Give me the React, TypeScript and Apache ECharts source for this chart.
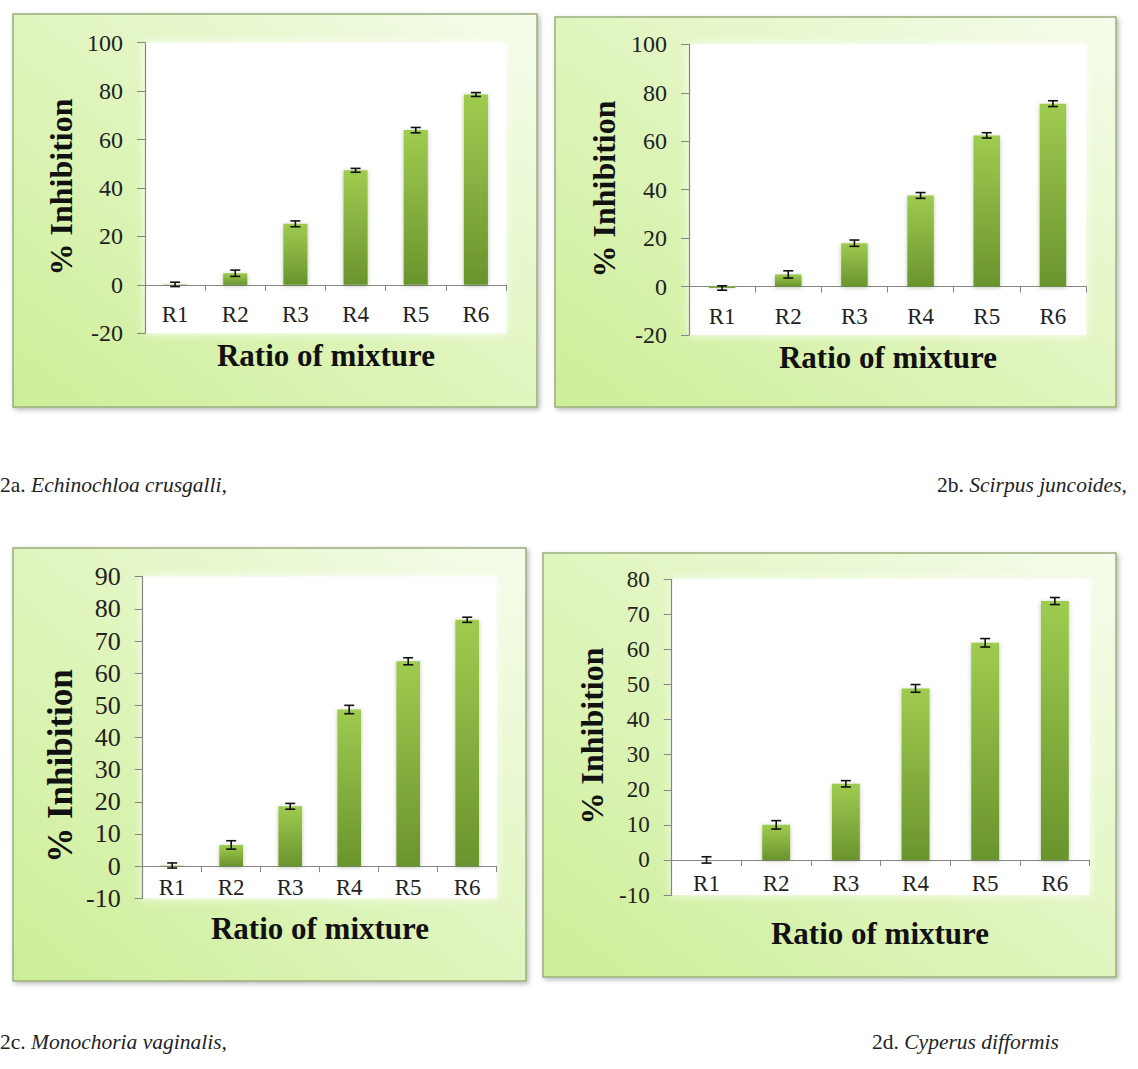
import React, { useEffect, useRef } from "react";
import * as echarts from "echarts";

const categories = ["R1", "R2", "R3", "R4", "R5", "R6"];

const valuesA = [0.2, 4.8, 25.2, 47.3, 63.9, 78.6];
const errorsA = [0.9, 1.3, 1.2, 0.8, 1.1, 0.8];
const valuesB = [-0.6, 5.0, 17.9, 37.6, 62.4, 75.5];
const errorsB = [0.9, 1.5, 1.3, 1.2, 1.1, 1.2];
const valuesC = [0.2, 6.6, 18.6, 48.7, 63.7, 76.6];
const errorsC = [0.8, 1.3, 0.9, 1.3, 1.1, 0.8];
const valuesD = [0.0, 10.0, 21.7, 48.9, 61.9, 73.8];
const errorsD = [0.9, 1.2, 0.9, 1.1, 1.2, 1.0];

const yScaleA = { min: -20, max: 100, interval: 20 };
const yScaleB = { min: -20, max: 100, interval: 20 };
const yScaleC = { min: -10, max: 90, interval: 10 };
const yScaleD = { min: -10, max: 80, interval: 10 };

const yTitle = "% Inhibition";
const xTitle = "Ratio of mixture";
const captions = [
  { num: "2a. ", name: "Echinochloa crusgalli," },
  { num: "2b. ", name: "Scirpus juncoides," },
  { num: "2c. ", name: "Monochoria vaginalis," },
  { num: "2d. ", name: "Cyperus difformis" },
];

const SERIF = "Liberation Serif";
const SERIF_STACK = "'Liberation Serif', 'Times New Roman', serif";

// layout of the four panels (pixels)
const panels = [
  {
    values: valuesA, errors: errorsA, scale: yScaleA,
    box: [13, 14, 524, 393],
    grid: { left: 145, top: 42.7, width: 361, height: 290.6 },
    yTitle: [61, 187, 32], xTitle: [326, 355], yFont: 24, xMargin: -30,
    caption: [0, 485],
  },
  {
    values: valuesB, errors: errorsB, scale: yScaleB,
    box: [555, 17, 561, 390],
    grid: { left: 689, top: 44.3, width: 397, height: 290.7 },
    yTitle: [604, 189, 32], xTitle: [888, 357], yFont: 24, xMargin: -30,
    caption: [937, 485],
  },
  {
    values: valuesC, errors: errorsC, scale: yScaleC,
    box: [13, 548, 513, 433],
    grid: { left: 142.7, top: 576.7, width: 354, height: 321.6 },
    yTitle: [60, 766, 35], xTitle: [320, 928], yFont: 26, xMargin: -22,
    caption: [0, 1042],
  },
  {
    values: valuesD, errors: errorsD, scale: yScaleD,
    box: [543, 553, 573, 424],
    grid: { left: 671.7, top: 579.3, width: 418, height: 315.7 },
    yTitle: [592, 736, 32], xTitle: [880, 933], yFont: 23, xMargin: -23.5,
    caption: [872, 1042],
  },
];

export default function App() {
  const ref = useRef<HTMLDivElement | null>(null);

  useEffect(() => {
    if (!ref.current) return;
    const chart = echarts.init(ref.current, undefined, { renderer: "svg" });

    const grids: any[] = [];
    const xAxes: any[] = [];
    const yAxes: any[] = [];
    const series: any[] = [];
    const graphics: any[] = [];

    panels.forEach((p, i) => {
      graphics.push({
        type: "rect",
        z: -10,
        shape: { x: p.box[0], y: p.box[1], width: p.box[2], height: p.box[3] },
        style: {
          fill: new echarts.graphic.LinearGradient(0, 1, 1, 0, [
            { offset: 0, color: "#cdee98" },
            { offset: 0.55, color: "#e2f6c2" },
            { offset: 1, color: "#f5fceb" },
          ]),
          stroke: "#9aae7c",
          lineWidth: 1.5,
          shadowColor: "rgba(0,0,0,0.28)",
          shadowBlur: 5,
          shadowOffsetX: 2,
          shadowOffsetY: 2,
        },
      });
      graphics.push({
        type: "text",
        x: p.yTitle[0],
        y: p.yTitle[1],
        rotation: Math.PI / 2,
        z: 10,
        style: {
          text: yTitle,
          font: `bold ${p.yTitle[2]}px ${SERIF_STACK}`,
          fill: "#111",
          align: "center",
          verticalAlign: "middle",
        },
      });
      graphics.push({
        type: "text",
        x: p.xTitle[0],
        y: p.xTitle[1],
        z: 10,
        style: {
          text: xTitle,
          font: `bold 31px ${SERIF_STACK}`,
          fill: "#111",
          align: "center",
          verticalAlign: "middle",
        },
      });
      const c = captions[i];
      graphics.push({
        type: "text",
        x: p.caption[0],
        y: p.caption[1],
        z: 10,
        style: {
          text: `{n|${c.num}}{i|${c.name}}`,
          align: "left",
          verticalAlign: "middle",
          rich: {
            n: { fontFamily: SERIF, fontSize: 21.5, fill: "#222" },
            i: { fontFamily: SERIF, fontSize: 21.5, fontStyle: "italic", fill: "#222" },
          },
        },
      });

      grids.push({
        left: p.grid.left,
        top: p.grid.top,
        width: p.grid.width,
        height: p.grid.height,
        show: true,
        backgroundColor: "#ffffff",
        borderWidth: 0,
        shadowColor: "rgba(255,255,255,1)",
        shadowBlur: 10,
        containLabel: false,
      });

      xAxes.push({
        type: "category",
        gridIndex: i,
        data: categories,
        axisLine: { show: true, onZero: true, lineStyle: { color: "#858585", width: 1.2 } },
        axisTick: { show: true, length: 6, alignWithLabel: false, lineStyle: { color: "#858585" } },
        axisLabel: {
          margin: p.xMargin,
          fontFamily: SERIF,
          fontSize: 23,
          color: "#222",
        },
        splitLine: { show: false },
      });

      yAxes.push({
        type: "value",
        gridIndex: i,
        min: p.scale.min,
        max: p.scale.max,
        interval: p.scale.interval,
        axisLine: { show: true, lineStyle: { color: "#858585", width: 1.2 } },
        axisTick: { show: true, length: 8, lineStyle: { color: "#858585" } },
        axisLabel: {
          margin: 22,
          fontFamily: SERIF,
          fontSize: p.yFont,
          color: "#222",
        },
        splitLine: { show: false },
      });

      series.push({
        type: "bar",
        xAxisIndex: i,
        yAxisIndex: i,
        data: p.values,
        barWidth: "40%",
        itemStyle: {
          color: new echarts.graphic.LinearGradient(0, 0, 0, 1, [
            { offset: 0, color: "#9fcb50" },
            { offset: 1, color: "#6a942d" },
          ]),
          shadowColor: "rgba(60,90,20,0.35)",
          shadowBlur: 4,
          shadowOffsetY: 1,
        },
      });

      series.push({
        type: "custom",
        xAxisIndex: i,
        yAxisIndex: i,
        z: 5,
        data: p.values.map((v, k) => [k, v - p.errors[k], v + p.errors[k]]),
        encode: { x: 0, y: [1, 2] },
        renderItem: (params: any, api: any) => {
          const k = api.value(0);
          const lo = api.coord([k, api.value(1)]);
          const hi = api.coord([k, api.value(2)]);
          const hw = 5;
          const st = { stroke: "#111", lineWidth: 1.6 };
          return {
            type: "group",
            children: [
              { type: "line", shape: { x1: lo[0], y1: lo[1], x2: hi[0], y2: hi[1] }, style: st },
              { type: "line", shape: { x1: lo[0] - hw, y1: lo[1], x2: lo[0] + hw, y2: lo[1] }, style: st },
              { type: "line", shape: { x1: hi[0] - hw, y1: hi[1], x2: hi[0] + hw, y2: hi[1] }, style: st },
            ],
          };
        },
      });
    });

    chart.setOption({
      animation: false,
      backgroundColor: "#ffffff",
      grid: grids,
      xAxis: xAxes,
      yAxis: yAxes,
      series,
      graphic: graphics,
    });

    return () => {
      chart.dispose();
    };
  }, []);

  return (
    <div
      ref={ref}
      style={{ position: "absolute", left: 0, top: 0, width: 1138, height: 1069 }}
    />
  );
}
